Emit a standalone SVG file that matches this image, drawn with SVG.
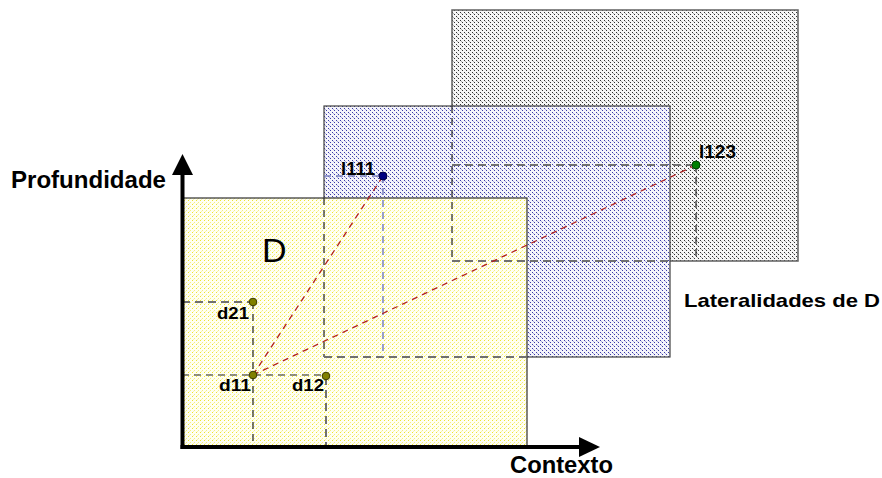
<svg xmlns="http://www.w3.org/2000/svg" width="882" height="478" viewBox="0 0 882 478">
<defs>
<pattern id="pGray" width="4" height="4" patternUnits="userSpaceOnUse">
<rect width="4" height="4" fill="#f6f6f6"/>
<rect x="0" y="0" width="1" height="1" fill="#303030"/>
<rect x="2" y="2" width="1" height="1" fill="#303030"/>
<rect x="1" y="1" width="1" height="1" fill="#b0b0b0"/>
</pattern>
<pattern id="pBlue" width="4" height="4" patternUnits="userSpaceOnUse">
<rect width="4" height="4" fill="#f4f4fb"/>
<rect x="0" y="0" width="1" height="1" fill="#3a3aa8"/>
<rect x="2" y="2" width="1" height="1" fill="#3a3aa8"/>
<rect x="1" y="1" width="1" height="1" fill="#b0b0e0"/>
</pattern>
<pattern id="pYellow" width="4" height="4" patternUnits="userSpaceOnUse">
<rect width="4" height="4" fill="#fffff2"/>
<rect x="0" y="0" width="1" height="1" fill="#eee430"/>
<rect x="2" y="2" width="1" height="1" fill="#f4ee80"/>
<rect x="1" y="3" width="1" height="1" fill="#f8f4b0"/>
</pattern>
</defs>
<style>
.lbl{font-family:"Liberation Sans",Arial,sans-serif;font-weight:bold;fill:#000}
.dk{stroke:#202020;stroke-width:1.2;stroke-dasharray:7 5;fill:none}
.gr{stroke:#707070;stroke-width:2;stroke-dasharray:8 5;fill:none}
.bl{stroke:#7880c0;stroke-width:1.5;stroke-dasharray:7 5;fill:none}
.rd{stroke:#b02020;stroke-width:1.3;stroke-dasharray:6 5;fill:none}
.dot{stroke-width:1}
</style>

<g id="lateral2">
<rect x="452" y="10" width="346" height="251" fill="url(#pGray)" stroke="#606060" stroke-width="1.5"/>
</g>
<g id="lateral1">
<rect x="324" y="106" width="346" height="251" fill="url(#pBlue)" stroke="#404040" stroke-width="1.2"/>
</g>
<g id="D">
<rect x="182" y="198" width="345" height="249" fill="url(#pYellow)" stroke="#303030" stroke-width="1.2"/>
<text x="262" y="262" font-family="Liberation Sans,Arial,sans-serif" font-size="34" fill="#000">D</text>
</g>

<g id="connectors">
<line class="dk" x1="324" y1="198" x2="324" y2="357"/>
<line class="gr" x1="324" y1="357" x2="527" y2="357"/>
<line class="dk" x1="452" y1="106" x2="452" y2="261"/>
<line class="gr" x1="452" y1="261" x2="670" y2="261"/>
<line class="bl" x1="324" y1="176" x2="383" y2="176"/>
<line class="bl" x1="383" y1="176" x2="383" y2="357"/>
<line class="gr" x1="452" y1="165" x2="696" y2="165"/>
<line class="dk" x1="696" y1="165" x2="696" y2="261"/>
<line class="gr" x1="182" y1="302" x2="253" y2="302"/>
<line class="dk" x1="182" y1="375" x2="326" y2="375"/>
<line class="dk" x1="253" y1="302" x2="253" y2="447"/>
<line class="gr" x1="326" y1="377" x2="326" y2="447"/>
<line class="rd" x1="253" y1="375" x2="383" y2="176"/>
<line class="rd" x1="253" y1="375" x2="696" y2="165"/>
</g>

<g id="axes">
<line x1="182.5" y1="449" x2="182.5" y2="172" stroke="#000" stroke-width="4"/>
<polygon points="182.5,154 172,175 193,175" fill="#000"/>
<line x1="180.5" y1="447" x2="582" y2="447" stroke="#000" stroke-width="4"/>
<polygon points="600,447 579,437 579,457" fill="#000"/>
<text class="lbl" x="11" y="188" font-size="23" textLength="155" lengthAdjust="spacingAndGlyphs">Profundidade</text>
<text class="lbl" x="510" y="473" font-size="23" textLength="103" lengthAdjust="spacingAndGlyphs">Contexto</text>
</g>

<g id="lateralidades-label">
<text class="lbl" x="684" y="307" font-size="19" textLength="196" lengthAdjust="spacingAndGlyphs">Lateralidades de D</text>
</g>

<g id="d21">
<circle class="dot" cx="253" cy="302" r="3.8" fill="#808000" stroke="#3a3a00"/>
<text class="lbl" x="217" y="319" font-size="17" textLength="32" lengthAdjust="spacingAndGlyphs">d21</text>
</g>
<g id="d11">
<circle class="dot" cx="253" cy="375" r="3.8" fill="#808000" stroke="#3a3a00"/>
<text class="lbl" x="219" y="391" font-size="17" textLength="32" lengthAdjust="spacingAndGlyphs">d11</text>
</g>
<g id="d12">
<circle class="dot" cx="326" cy="376" r="3.8" fill="#808000" stroke="#3a3a00"/>
<text class="lbl" x="292" y="391" font-size="17" textLength="32" lengthAdjust="spacingAndGlyphs">d12</text>
</g>
<g id="l111">
<circle class="dot" cx="383" cy="176" r="4" fill="#000080" stroke="#000040"/>
<text class="lbl" x="341" y="175" font-size="18" textLength="34" lengthAdjust="spacingAndGlyphs">l111</text>
</g>
<g id="l123">
<circle class="dot" cx="696" cy="165" r="4" fill="#008000" stroke="#004000"/>
<text class="lbl" x="699" y="158" font-size="18" textLength="37" lengthAdjust="spacingAndGlyphs">l123</text>
</g>
</svg>
